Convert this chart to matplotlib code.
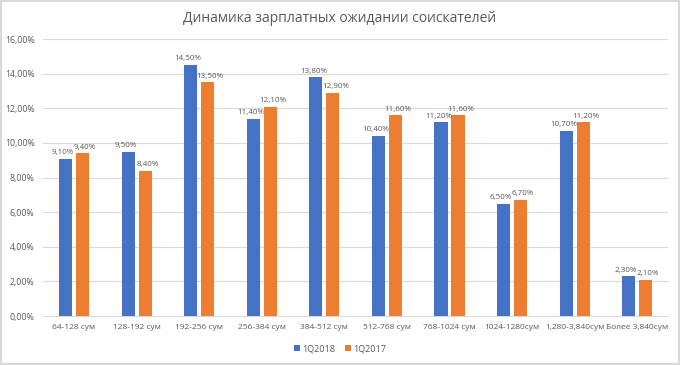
import matplotlib.pyplot as plt
import numpy as np

categories = ['64-128 сум', '128-192 сум', '192-256 сум', '256-384 сум', '384-512 сум',
              '512-768 сум', '768-1024 сум', '1024-1280сум', '1,280-3,840сум', 'Более 3,840сум']
q2018 = [9.10, 9.50, 14.50, 11.40, 13.80, 10.40, 11.20, 6.50, 10.70, 2.30]
q2017 = [9.40, 8.40, 13.50, 12.10, 12.90, 11.60, 11.60, 6.70, 11.20, 2.10]
yticks = [0, 2, 4, 6, 8, 10, 12, 14, 16]

def pct(v):
    return ('%.2f%%' % v).replace('.', ',')

plt.rcParams['font.family'] = ['Open Sans', 'DejaVu Sans']
grey = '#595959'

fig = plt.figure(figsize=(6.8, 3.65), dpi=100)
ax = fig.add_axes([0.063, 0.134, 0.92, 0.759])

x = np.arange(len(categories))
off, w = 0.136, 0.21
b1 = ax.bar(x - off, q2018, w, color='#4472C4', label='1Q2018', zorder=3)
b2 = ax.bar(x + off, q2017, w, color='#ED7D31', label='1Q2017', zorder=3)

# Data labels, nudged apart a little so neighbours don't collide
for bars, vals, dx in ((b1, q2018, -0.04), (b2, q2017, 0.04)):
    for b, v in zip(bars, vals):
        ax.text(b.get_x() + b.get_width() / 2 + dx, v + 0.15, pct(v), ha='center', va='bottom',
                fontsize=5.8, color=grey)

ax.set_xlim(-0.5, len(categories) - 0.5)
ax.set_ylim(0, 16)
ax.set_yticks(yticks)
ax.set_yticklabels([pct(t) for t in yticks], fontsize=6.3, color=grey)
ax.set_xticks(x)
ax.set_xticklabels(categories, fontsize=6, color=grey)
ax.tick_params(length=0, pad=6)
ax.grid(axis='y', color='#D9D9D9', linewidth=0.8, zorder=0)
for s in ['top', 'right', 'left']:
    ax.spines[s].set_visible(False)
ax.spines['bottom'].set_color('#D9D9D9')

fig.text(0.5, 0.95, 'Динамика зарплатных ожидании соискателей', ha='center', va='center',
         fontsize=10, color=grey)
fig.legend(loc='center', bbox_to_anchor=(0.5, 0.045), ncol=2, frameon=False, fontsize=6.5,
           handlelength=0.7, handleheight=0.7, columnspacing=1.0, handletextpad=0.3,
           labelcolor=grey)

fig.patches.append(plt.Rectangle((0.002, 0.003), 0.996, 0.994, transform=fig.transFigure,
                                 fill=False, edgecolor='#D9D9D9', linewidth=1.5))

fig.savefig('out.png', dpi=100)
